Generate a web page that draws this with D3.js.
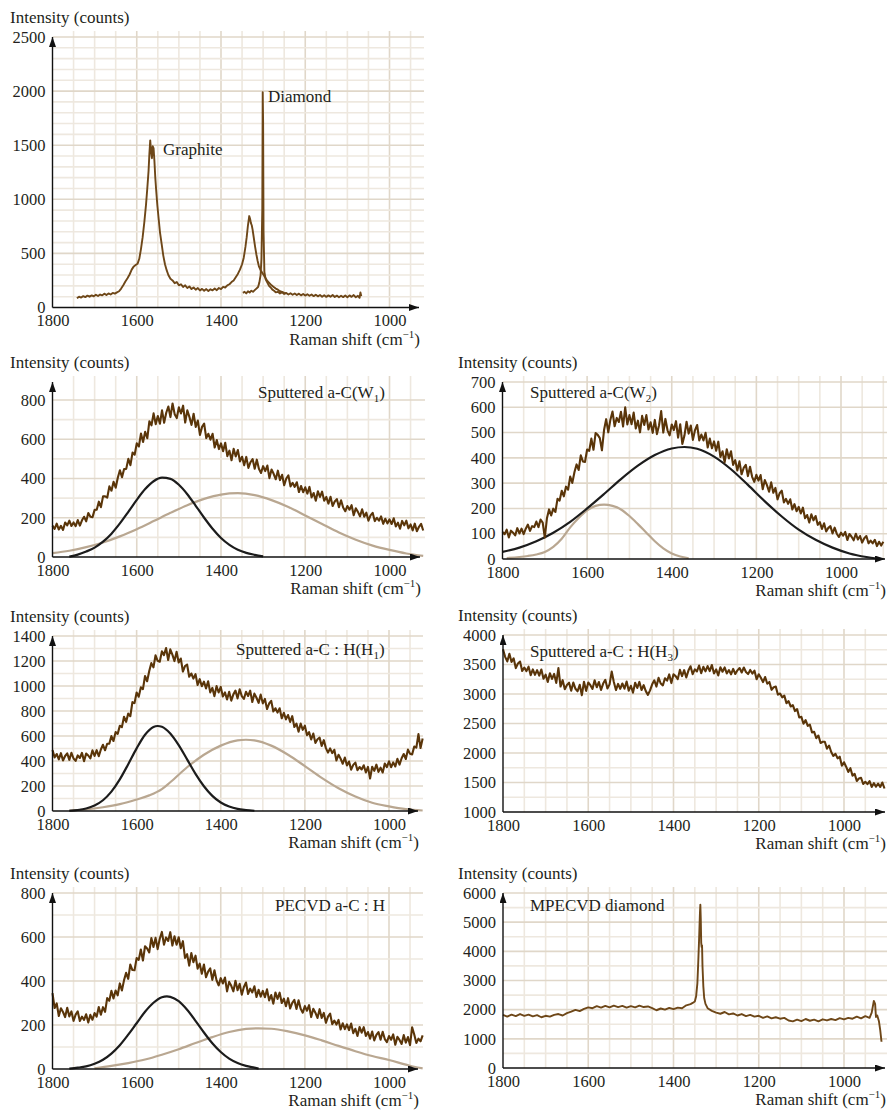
<!DOCTYPE html>
<html>
<head>
<meta charset="utf-8">
<script src="https://cdn.jsdelivr.net/npm/d3@7"></script>
<style>
  body { margin: 0; background: #fff; }
  svg text { font-family: "Liberation Serif", "Times New Roman", serif; fill: #231f20; }
</style>
</head>
<body>
<svg id="chart" width="887" height="1111"></svg>
<script>
"use strict";

// Tick labels shared by every panel.
const xTickValues = [1800, 1600, 1400, 1200, 1000];
const graphiteYTicks = [0, 500, 1000, 1500, 2000, 2500];
const w1YTicks = [0, 200, 400, 600, 800];
const w2YTicks = [0, 100, 200, 300, 400, 500, 600, 700];
const h1YTicks = [0, 200, 400, 600, 800, 1000, 1200, 1400];
const h3YTicks = [1000, 1500, 2000, 2500, 3000, 3500, 4000];
const pecvdYTicks = [0, 200, 400, 600, 800];
const mpecvdYTicks = [0, 1000, 2000, 3000, 4000, 5000, 6000];

// Top panel: graphite trace and diamond trace.
const graphiteShift = [1742, 1737, 1732, 1727, 1722, 1717, 1712, 1707, 1702, 1697, 1692, 1687, 1682, 1677, 1672, 1667, 1662, 1657, 1652, 1647, 1642, 1637, 1632, 1627, 1622, 1617, 1612, 1607, 1602, 1598, 1594, 1590, 1586, 1582, 1578, 1575, 1572, 1570, 1568, 1566, 1564, 1562, 1560, 1558, 1556, 1554, 1551, 1548, 1545, 1541, 1537, 1533, 1529, 1525, 1520, 1515, 1510, 1505, 1500, 1495, 1490, 1485, 1480, 1475, 1470, 1465, 1460, 1455, 1450, 1445, 1440, 1435, 1430, 1425, 1420, 1415, 1410, 1405, 1400, 1395, 1390, 1385, 1380, 1375, 1370, 1365, 1360, 1355, 1350, 1346, 1342, 1339, 1336, 1333, 1331, 1329, 1327, 1325, 1322, 1319, 1316, 1313, 1310, 1306, 1302, 1298, 1294, 1290, 1285, 1280, 1275, 1270, 1265, 1260, 1255, 1250, 1245];
const graphiteCounts = [85, 100, 92, 105, 96, 110, 100, 112, 104, 118, 106, 120, 112, 128, 115, 130, 120, 135, 128, 140, 150, 175, 205, 240, 270, 305, 350, 380, 395, 405, 450, 540, 650, 790, 950, 1100, 1260, 1420, 1545, 1440, 1380, 1490, 1470, 1350, 1200, 1090, 940, 820, 700, 590, 480, 400, 345, 300, 265, 250, 225, 235, 205, 215, 190, 205, 180, 195, 170, 185, 165, 180, 158, 172, 155, 170, 152, 168, 158, 175, 160, 180, 170, 190, 185, 205, 215, 235, 250, 280, 310, 350, 400, 460, 560, 650, 760, 845, 820, 780, 760, 720, 640, 560, 490, 430, 380, 345, 320, 295, 270, 245, 225, 205, 190, 175, 165, 150, 145, 135, 130];
const diamondShift = [1348, 1344, 1340, 1336, 1332, 1328, 1324, 1320, 1316, 1312, 1309, 1306, 1304, 1302, 1301, 1300, 1299, 1297, 1294, 1290, 1286, 1282, 1278, 1274, 1270, 1265, 1260, 1255, 1250, 1245, 1240, 1235, 1230, 1225, 1220, 1215, 1210, 1205, 1200, 1195, 1190, 1185, 1180, 1175, 1170, 1165, 1160, 1155, 1150, 1145, 1140, 1135, 1130, 1125, 1120, 1115, 1110, 1105, 1100, 1095, 1090, 1085, 1080, 1075, 1071, 1069, 1067];
const diamondCounts = [135, 145, 130, 150, 138, 155, 145, 160, 175, 190, 230, 300, 450, 900, 1990, 1700, 700, 330, 260, 230, 200, 185, 165, 155, 140, 145, 130, 140, 125, 135, 120, 132, 118, 130, 115, 128, 112, 125, 110, 122, 108, 120, 105, 118, 103, 115, 100, 113, 98, 112, 100, 115, 97, 110, 95, 108, 96, 110, 94, 112, 98, 115, 95, 108, 90, 140, 105];

// Sputtered a-C (W1): 5 cm-1 sampling from 1800 down to 920.
const w1Shift = d3.range(1800, 919, -5);
const w1Counts = [
  160, 143, 170, 140, 159, 138, 176, 161, 185, 158, 176, 157, 188, 160, 187, 205,
  182, 224, 205, 203, 240, 241, 282, 254, 309, 309, 303, 360, 338, 383, 353, 404,
  442, 407, 448, 449, 500, 468, 532, 521, 579, 563, 629, 586, 638, 605, 692, 671,
  732, 677, 718, 679, 747, 684, 735, 767, 713, 782, 728, 708, 763, 731, 771, 685,
  747, 714, 673, 730, 663, 695, 622, 663, 680, 606, 628, 598, 628, 558, 596, 550,
  579, 539, 582, 514, 542, 493, 551, 512, 545, 487, 511, 467, 510, 454, 483, 499,
  450, 496, 450, 428, 463, 438, 466, 402, 446, 424, 396, 440, 392, 419, 366, 400,
  416, 360, 378, 357, 381, 331, 362, 330, 355, 323, 357, 304, 326, 287, 335, 306,
  333, 287, 306, 272, 307, 260, 283, 295, 254, 289, 252, 233, 260, 241, 264, 213,
  248, 230, 207, 243, 205, 226, 185, 212, 225, 183, 200, 185, 207, 169, 195, 171,
  192, 168, 197, 156, 175, 144, 184, 161, 185, 146, 166, 136, 170, 131, 154, 169,
  135];
const w1NarrowShift = [1760, 1740, 1720, 1700, 1680, 1660, 1640, 1620, 1600, 1580, 1560, 1540, 1520, 1500, 1480, 1460, 1440, 1420, 1400, 1380, 1360, 1340, 1320, 1300];
const w1NarrowCounts = [2, 12, 28, 48, 78, 119, 171, 230, 291, 346, 386, 404, 398, 368, 320, 261, 200, 144, 97, 62, 37, 21, 11, 3];
const w1BroadShift = [1800, 1760, 1720, 1680, 1640, 1600, 1560, 1520, 1480, 1440, 1400, 1360, 1320, 1280, 1240, 1200, 1160, 1120, 1080, 1040, 1000, 960, 920];
const w1BroadCounts = [20, 32, 50, 74, 105, 142, 183, 225, 264, 296, 318, 325, 315, 290, 255, 212, 168, 125, 88, 58, 36, 18, 6];

// Sputtered a-C (W2): 5 cm-1 sampling from 1800 down to 900.
const w2Shift = d3.range(1800, 899, -5);
const w2Counts = [
  107, 98, 116, 85, 112, 104, 93, 122, 101, 120, 98, 120, 136, 111, 130, 126,
  148, 126, 156, 144, 85, 161, 196, 172, 199, 186, 238, 231, 270, 248, 286, 274,
  326, 301, 343, 374, 352, 410, 386, 384, 433, 428, 476, 432, 498, 491, 478, 430,
  510, 553, 501, 551, 583, 525, 558, 542, 582, 524, 600, 532, 569, 533, 579, 516,
  547, 501, 566, 530, 569, 512, 541, 499, 550, 494, 529, 585, 500, 554, 509, 489,
  532, 510, 545, 480, 533, 455, 488, 543, 496, 528, 471, 510, 530, 469, 492, 469,
  499, 441, 476, 438, 465, 428, 464, 404, 426, 382, 434, 398, 426, 372, 391, 350,
  386, 335, 360, 372, 328, 365, 325, 305, 333, 310, 332, 276, 312, 292, 266, 303,
  262, 281, 236, 260, 270, 224, 238, 218, 236, 196, 217, 189, 206, 180, 203, 161,
  174, 144, 177, 153, 170, 135, 146, 119, 141, 109, 123, 130, 101, 124, 100, 87,
  104, 92, 107, 75, 99, 88, 74, 100, 77, 91, 65, 82, 91, 62, 73, 62,
  76, 51, 68, 53, 68];
const w2BroadShift = [1800, 1760, 1720, 1680, 1640, 1600, 1560, 1520, 1480, 1440, 1400, 1370, 1340, 1300, 1260, 1220, 1180, 1140, 1100, 1060, 1020, 980, 940, 920, 900];
const w2BroadCounts = [28, 45, 70, 104, 147, 200, 257, 316, 369, 411, 437, 443, 436, 405, 355, 293, 228, 168, 116, 76, 45, 22, 8, 3, 0];
const w2NarrowShift = [1790, 1760, 1740, 1720, 1700, 1680, 1660, 1640, 1620, 1600, 1580, 1560, 1540, 1520, 1500, 1480, 1460, 1440, 1420, 1400, 1380, 1360];
const w2NarrowCounts = [4, 8, 12, 18, 28, 48, 80, 125, 162, 192, 210, 215, 210, 196, 170, 138, 104, 70, 42, 22, 10, 3];

// Sputtered a-C:H (H1): 5 cm-1 sampling from 1800 down to 920.
const h1Shift = d3.range(1800, 919, -5);
const h1Counts = [
  488, 429, 456, 413, 463, 404, 440, 461, 409, 466, 420, 401, 445, 424, 465, 399,
  459, 444, 421, 485, 440, 487, 438, 492, 530, 486, 538, 538, 599, 560, 631, 617,
  682, 671, 754, 713, 779, 758, 871, 863, 948, 914, 989, 975, 1080, 1038, 1120, 1183,
  1149, 1246, 1202, 1194, 1277, 1247, 1304, 1208, 1293, 1251, 1199, 1274, 1188, 1220, 1116, 1159,
  1172, 1074, 1100, 1059, 1095, 1008, 1055, 998, 1035, 981, 1038, 949, 985, 919, 999, 948,
  993, 916, 949, 892, 954, 883, 933, 963, 901, 974, 919, 896, 954, 920, 963, 872,
  939, 906, 865, 931, 861, 897, 816, 860, 881, 796, 822, 787, 822, 742, 786, 733,
  768, 713, 759, 672, 699, 634, 700, 649, 683, 607, 631, 572, 620, 545, 574, 587,
  520, 567, 503, 467, 501, 463, 490, 404, 450, 418, 378, 428, 365, 396, 331, 369,
  387, 326, 352, 332, 366, 309, 353, 260, 354, 321, 371, 313, 347, 308, 380, 351,
  398, 350, 389, 356, 418, 371, 422, 456, 416, 491, 458, 453, 516, 507, 615, 504,
  580];
const h1NarrowShift = [1760, 1740, 1720, 1700, 1680, 1660, 1640, 1620, 1600, 1580, 1560, 1550, 1540, 1520, 1500, 1480, 1460, 1440, 1420, 1400, 1380, 1360, 1340, 1320];
const h1NarrowCounts = [2, 8, 20, 44, 86, 155, 253, 374, 501, 610, 672, 680, 674, 620, 527, 413, 297, 198, 121, 68, 36, 17, 8, 2];
const h1BroadShift = [1760, 1720, 1680, 1640, 1600, 1570, 1540, 1520, 1480, 1440, 1400, 1360, 1340, 1320, 1280, 1240, 1200, 1160, 1120, 1080, 1040, 1000, 960, 920];
const h1BroadCounts = [3, 12, 30, 55, 92, 125, 175, 230, 350, 450, 523, 565, 570, 565, 523, 450, 359, 265, 182, 116, 66, 37, 15, 4];

// Sputtered a-C:H (H3): 5 cm-1 sampling from 1800 down to 905.
const h3Shift = d3.range(1800, 904, -5);
const h3Counts = [
  3760, 3630, 3552, 3681, 3544, 3604, 3439, 3517, 3550, 3391, 3448, 3388, 3463, 3318, 3416, 3325,
  3405, 3312, 3416, 3260, 3328, 3205, 3352, 3256, 3340, 3188, 3440, 3126, 3234, 3082, 3154, 3191,
  3056, 3194, 3088, 3046, 3156, 2980, 3207, 3053, 3195, 3150, 3087, 3231, 3114, 3204, 3069, 3177,
  3240, 3094, 3163, 3380, 3203, 3066, 3171, 3088, 3178, 3090, 3211, 3056, 3139, 3023, 3191, 3103,
  3205, 3067, 3149, 3049, 2985, 3062, 3164, 3231, 3126, 3274, 3178, 3146, 3266, 3227, 3332, 3185,
  3335, 3303, 3252, 3409, 3304, 3404, 3279, 3397, 3470, 3336, 3418, 3383, 3483, 3351, 3461, 3383,
  3473, 3389, 3492, 3348, 3416, 3315, 3454, 3377, 3450, 3348, 3406, 3332, 3426, 3339, 3401, 3440,
  3364, 3449, 3372, 3337, 3408, 3346, 3396, 3250, 3335, 3275, 3201, 3288, 3174, 3204, 3071, 3115,
  3125, 2989, 3008, 2943, 2972, 2845, 2879, 2788, 2810, 2711, 2744, 2603, 2612, 2495, 2558, 2459,
  2480, 2350, 2358, 2252, 2296, 2169, 2191, 2190, 2074, 2127, 2017, 1950, 1986, 1910, 1937, 1783,
  1843, 1768, 1679, 1742, 1616, 1646, 1526, 1568, 1580, 1474, 1512, 1472, 1522, 1425, 1489, 1428,
  1480, 1424, 1499, 1398];

// PECVD a-C:H: 5 cm-1 sampling from 1800 down to 920.
const pecvdShift = d3.range(1800, 919, -5);
const pecvdCounts = [
  345, 277, 298, 241, 276, 259, 236, 278, 239, 262, 219, 247, 262, 218, 238, 223,
  249, 211, 246, 224, 254, 238, 282, 247, 281, 260, 322, 310, 355, 321, 357, 335,
  389, 357, 403, 437, 410, 475, 450, 449, 504, 496, 543, 493, 558, 548, 530, 595,
  555, 596, 545, 592, 623, 565, 598, 582, 622, 561, 603, 565, 599, 549, 581, 505,
  522, 470, 527, 485, 515, 456, 479, 433, 475, 417, 443, 457, 405, 449, 403, 380,
  413, 389, 416, 353, 396, 378, 353, 401, 358, 387, 338, 373, 393, 341, 365, 348,
  376, 327, 360, 329, 355, 326, 362, 312, 336, 297, 348, 318, 347, 300, 320, 285,
  322, 275, 301, 314, 273, 312, 274, 256, 286, 265, 290, 236, 274, 256, 232, 272,
  232, 255, 210, 238, 252, 204, 220, 202, 223, 180, 208, 181, 203, 177, 207, 163,
  183, 150, 191, 165, 190, 150, 168, 138, 170, 130, 155, 168, 133, 169, 136, 122,
  150, 133, 157, 110, 146, 132, 114, 154, 120, 145, 108, 190, 157, 118, 138, 126,
  153];
const pecvdNarrowShift = [1760, 1740, 1720, 1700, 1680, 1660, 1640, 1620, 1600, 1580, 1560, 1540, 1528, 1520, 1500, 1480, 1460, 1440, 1420, 1400, 1380, 1360, 1340, 1320, 1310];
const pecvdNarrowCounts = [2, 6, 12, 24, 42, 70, 108, 156, 208, 260, 301, 326, 330, 328, 308, 269, 219, 166, 117, 77, 47, 27, 14, 6, 2];
const pecvdBroadShift = [1700, 1660, 1620, 1580, 1540, 1500, 1460, 1420, 1380, 1340, 1310, 1280, 1240, 1200, 1160, 1120, 1080, 1040, 1000, 960, 940, 920];
const pecvdBroadCounts = [3, 14, 27, 43, 65, 90, 118, 145, 168, 182, 185, 183, 171, 153, 130, 105, 81, 59, 41, 20, 10, 3];

// MPECVD diamond.
const mpecvdShift = [1800, 1790, 1780, 1770, 1760, 1750, 1740, 1730, 1720, 1710, 1700, 1690, 1680, 1670, 1660, 1650, 1640, 1630, 1620, 1610, 1600, 1590, 1580, 1570, 1560, 1550, 1540, 1530, 1520, 1510, 1500, 1490, 1480, 1470, 1460, 1450, 1440, 1430, 1420, 1410, 1400, 1390, 1380, 1370, 1360, 1355, 1350, 1347, 1344, 1342, 1340, 1338, 1337, 1336, 1335, 1334, 1333, 1332, 1330, 1328, 1325, 1320, 1310, 1300, 1290, 1280, 1270, 1260, 1250, 1240, 1230, 1220, 1210, 1200, 1190, 1180, 1170, 1160, 1150, 1140, 1130, 1120, 1110, 1100, 1090, 1080, 1070, 1060, 1050, 1040, 1030, 1020, 1010, 1000, 990, 980, 970, 960, 950, 940, 935, 930, 927, 925, 922, 918, 915, 912];
const mpecvdCounts = [1820, 1760, 1830, 1780, 1850, 1790, 1830, 1770, 1810, 1740, 1790, 1760, 1820, 1850, 1800, 1880, 1930, 1990, 1950, 2030, 2080, 2050, 2120, 2070, 2130, 2080, 2140, 2090, 2130, 2070, 2120, 2080, 2140, 2090, 2110, 2050, 1980, 2040, 2000, 2060, 2020, 2070, 2050, 2150, 2190, 2230, 2280, 2450, 2900, 3600, 4400, 5300, 5600, 5100, 4300, 4150, 4200, 3500, 2800, 2400, 2200, 2050, 1960, 1900, 1860, 1920, 1840, 1870, 1800, 1850, 1780, 1820, 1760, 1790, 1720, 1770, 1700, 1740, 1690, 1720, 1630, 1600, 1660, 1610, 1680, 1620, 1660, 1600, 1670, 1630, 1680, 1640, 1710, 1670, 1720, 1690, 1760, 1700, 1780, 1720, 1900, 2300, 2200, 1750, 1800, 1600, 1300, 900];

const serif = "'Liberation Serif', 'Times New Roman', serif";

const colors = {
  spectrum: "#5a3509",
  spectrumLight: "#6e4718",
  fitDark: "#1c1c1c",
  fitTan: "#b9a791",
  gridMinor: "#eee8df",
  gridMajor: "#e0d7c9",
  axis: "#111111",
  text: "#231f20"
};

const panels = [
  { left: 52.5, px1000: 389.5, right: 419, bottom: 307.5, yMin: 0, refVal: 2500, refPx: 37, top: 37,
    yTicks: graphiteYTicks, hStep: 100, labelX: 10, width: 1.9,
    spectra: [[graphiteShift, graphiteCounts], [diamondShift, diamondCounts]], spectrumColor: colors.spectrumLight,
    fits: [],
    notes: [{ x: 163, y: 155, parts: [["Graphite"]] }, { x: 268, y: 102, parts: [["Diamond"]] }] },
  { left: 52.5, px1000: 389.5, right: 420, bottom: 557, yMin: 0, refVal: 800, refPx: 400, top: 382,
    yTicks: w1YTicks, hStep: 100, labelX: 10, width: 2.1,
    spectra: [[w1Shift, w1Counts]], spectrumColor: colors.spectrum,
    fits: [[w1BroadShift, w1BroadCounts, colors.fitTan], [w1NarrowShift, w1NarrowCounts, colors.fitDark]],
    notes: [{ x: 258, y: 398, parts: [["Sputtered a-C(W"], ["1", "sub"], [")"]] }] },
  { left: 502.5, px1000: 841, right: 885, bottom: 559, yMin: 0, refVal: 700, refPx: 382, top: 382,
    yTicks: w2YTicks, hStep: 100, labelX: 458, width: 2.1,
    spectra: [[w2Shift, w2Counts]], spectrumColor: colors.spectrum,
    fits: [[w2NarrowShift, w2NarrowCounts, colors.fitTan], [w2BroadShift, w2BroadCounts, colors.fitDark]],
    notes: [{ x: 530, y: 398, parts: [["Sputtered a-C(W"], ["2", "sub"], [")"]] }] },
  { left: 52.5, px1000: 389, right: 418, bottom: 811, yMin: 0, refVal: 1400, refPx: 636, top: 636,
    yTicks: h1YTicks, hStep: 100, labelX: 10, width: 2.1,
    spectra: [[h1Shift, h1Counts]], spectrumColor: colors.spectrum,
    fits: [[h1BroadShift, h1BroadCounts, colors.fitTan], [h1NarrowShift, h1NarrowCounts, colors.fitDark]],
    notes: [{ x: 236, y: 655, parts: [["Sputtered a-C : H(H"], ["1", "sub"], [")"]] }] },
  { left: 503, px1000: 844, right: 885, bottom: 812, yMin: 1000, refVal: 4000, refPx: 635, top: 635,
    yTicks: h3YTicks, hStep: 250, labelX: 458, width: 2.1,
    spectra: [[h3Shift, h3Counts]], spectrumColor: colors.spectrum,
    fits: [],
    notes: [{ x: 530, y: 657, parts: [["Sputtered a-C : H(H"], ["3", "sub"], [")"]] }] },
  { left: 52.5, px1000: 389, right: 418, bottom: 1069, yMin: 0, refVal: 800, refPx: 893, top: 893,
    yTicks: pecvdYTicks, hStep: 100, labelX: 10, width: 2.1,
    spectra: [[pecvdShift, pecvdCounts]], spectrumColor: colors.spectrum,
    fits: [[pecvdBroadShift, pecvdBroadCounts, colors.fitTan], [pecvdNarrowShift, pecvdNarrowCounts, colors.fitDark]],
    notes: [{ x: 275, y: 911, parts: [["PECVD a-C : H"]] }] },
  { left: 503, px1000: 844, right: 885, bottom: 1068, yMin: 0, refVal: 6000, refPx: 893, top: 893,
    yTicks: mpecvdYTicks, hStep: 500, labelX: 458, width: 1.9,
    spectra: [[mpecvdShift, mpecvdCounts]], spectrumColor: colors.spectrumLight,
    fits: [],
    notes: [{ x: 530, y: 911, parts: [["MPECVD diamond"]] }] }
];

const svg = d3.select("#chart");

svg.append("defs").append("marker")
    .attr("id", "arrow")
    .attr("viewBox", "0 0 10 7")
    .attr("refX", 10)
    .attr("refY", 3.5)
    .attr("markerWidth", 10)
    .attr("markerHeight", 7)
    .attr("markerUnits", "userSpaceOnUse")
    .attr("orient", "auto")
  .append("path")
    .attr("d", "M0,0L10,3.5L0,7Z")
    .attr("fill", colors.axis);

// Text with optional sub/superscript pieces.
function richText(g, x, y, parts, anchor) {
  const t = g.append("text")
    .attr("x", x)
    .attr("y", y)
    .style("font-family", serif)
    .style("font-size", "17px")
    .style("fill", colors.text)
    .attr("text-anchor", anchor || "start");
  let shift = 0;
  parts.forEach(function (p) {
    const span = t.append("tspan").text(p[0]);
    let target = 0;
    if (p[1] === "sub") target = 4;
    if (p[1] === "sup") target = -7;
    if (target !== shift) span.attr("dy", target - shift);
    if (p[1]) span.style("font-size", "11px");
    shift = target;
  });
  return t;
}

function drawPanel(p) {
  const g = svg.append("g");

  const xRef = d3.scaleLinear().domain([1800, 1000]).range([p.left, p.px1000]);
  const x = d3.scaleLinear().domain([1800, xRef.invert(p.right)]).range([p.left, p.right]);
  const yRef = d3.scaleLinear().domain([p.yMin, p.refVal]).range([p.bottom, p.refPx]);
  const y = d3.scaleLinear().domain([p.yMin, yRef.invert(p.top)]).range([p.bottom, p.top]);

  // grid
  const grid = g.append("g").attr("fill", "none");
  const vLines = d3.range(1750, x.domain()[1] - 1, -50);
  grid.selectAll("line.v")
    .data(vLines)
    .enter()
    .append("line")
      .attr("x1", d => x(d)).attr("x2", d => x(d))
      .attr("y1", p.bottom).attr("y2", p.top - 6)
      .attr("stroke", d => xTickValues.includes(d) ? colors.gridMajor : colors.gridMinor)
      .attr("stroke-width", 1.6);
  const hLines = d3.range(p.yMin + p.hStep, y.domain()[1] + 1, p.hStep);
  grid.selectAll("line.h")
    .data(hLines)
    .enter()
    .append("line")
      .attr("x1", p.left).attr("x2", p.right + 5)
      .attr("y1", d => y(d)).attr("y2", d => y(d))
      .attr("stroke", d => p.yTicks.includes(d) ? colors.gridMajor : colors.gridMinor)
      .attr("stroke-width", 1.6);

  // fitted components
  const smooth = d3.line()
    .curve(d3.curveMonotoneX)
    .x(d => x(d[0]))
    .y(d => y(d[1]));
  p.fits.forEach(function (f) {
    g.append("path")
      .datum(d3.zip(f[0], f[1]))
      .attr("fill", "none")
      .attr("stroke", f[2])
      .attr("stroke-width", 2.2)
      .attr("d", smooth);
  });

  // measured spectra
  const raw = d3.line()
    .defined(d => d[1] != null)
    .x(d => x(d[0]))
    .y(d => y(d[1]));
  p.spectra.forEach(function (s) {
    g.append("path")
      .datum(d3.zip(s[0], s[1]))
      .attr("fill", "none")
      .attr("stroke", p.spectrumColor)
      .attr("stroke-width", p.width)
      .attr("stroke-linejoin", "round")
      .attr("d", raw);
  });

  // axes lines with arrowheads
  g.append("line")
    .attr("x1", p.left).attr("x2", p.right)
    .attr("y1", p.bottom).attr("y2", p.bottom)
    .attr("stroke", colors.axis).attr("stroke-width", 1.4)
    .attr("marker-end", "url(#arrow)");
  g.append("line")
    .attr("x1", p.left).attr("x2", p.left)
    .attr("y1", p.bottom).attr("y2", p.top)
    .attr("stroke", colors.axis).attr("stroke-width", 1.4)
    .attr("marker-end", "url(#arrow)");

  // tick labels
  const xAxis = g.append("g")
    .attr("transform", "translate(0," + p.bottom + ")")
    .call(d3.axisBottom(x).tickValues(xTickValues).tickSize(0).tickPadding(7).tickFormat(d3.format("d")));
  const yAxis = g.append("g")
    .attr("transform", "translate(" + p.left + ",0)")
    .call(d3.axisLeft(y).tickValues(p.yTicks).tickSize(0).tickPadding(7).tickFormat(d3.format("d")));
  [xAxis, yAxis].forEach(function (a) {
    a.select(".domain").remove();
    a.attr("font-family", null).attr("font-size", null);
    a.selectAll("text")
      .style("font-family", serif)
      .style("font-size", "16.5px")
      .style("fill", colors.text);
  });

  // axis titles
  richText(g, p.labelX, p.top - 14, [["Intensity (counts)"]]);
  richText(g, p.right + 1, p.bottom + 37, [["Raman shift (cm"], ["\u22121", "sup"], [")"]], "end");

  p.notes.forEach(function (n) {
    richText(g, n.x, n.y, n.parts);
  });
}

panels.forEach(drawPanel);
</script>
</body>
</html>
